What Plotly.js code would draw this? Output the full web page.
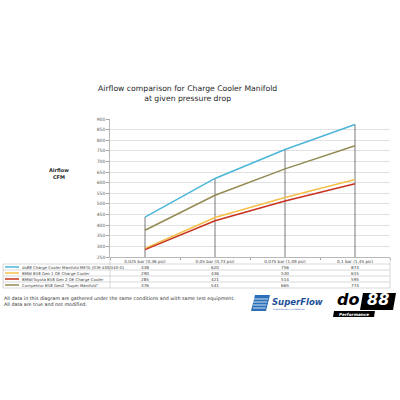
<!DOCTYPE html>
<html><head><meta charset="utf-8">
<script src="https://cdn.plot.ly/plotly-3.0.1.min.js"></script>
<style>html,body{margin:0;padding:0;background:#fff}#c{width:400px;height:400px}</style>
</head><body><div id="c"></div>
<script>
var categories = ["0,025 bar (0,36 psi)", "0,05 bar (0,73 psi)", "0,075 bar (1,09 psi)", "0,1 bar (1,45 psi)"];
var seriesNames = ["do88 Charge Cooler Manifold META (ICM-430/440-G)", "BMW B58 Gen 1 OE Charge Cooler", "BMW/Toyota B58 Gen 2 OE Charge Cooler", "Competitor B58 Gen2 \"Super Manifold\""];
var do88Values = [438, 620, 756, 874];
var gen1Values = [290, 436, 530, 615];
var gen2Values = [285, 421, 514, 595];
var competitorValues = [376, 541, 665, 774];
var seriesColors = ["#4bb6d8", "#f5c04a", "#c8321e", "#948a54"];
var yTicks = [250,300,350,400,450,500,550,600,650,700,750,800,850,900];

var allSeries = [do88Values, gen1Values, gen2Values, competitorValues];

var L = 110, R = 390, T = 119, B = 257;
function px(X){ return (X - L) / (R - L); }
function py(Y){ return (B - Y) / (B - T); }

var traces = [];
var dx = [], dy = [];
categories.forEach(function(c, i){
  var m = Math.max.apply(null, allSeries.map(function(s){return s[i];}));
  dx.push(c, c, null); dy.push(yTicks[0], m, null);
});
traces.push({x: dx, y: dy, mode: 'lines', line: {color: '#595959', width: 0.8}, hoverinfo: 'skip', showlegend: false});
[3, 0, 1, 2].forEach(function(k){
  traces.push({x: categories, y: allSeries[k], mode: 'lines', name: seriesNames[k],
    line: {color: seriesColors[k], width: 1.5}, showlegend: false});
});

var shapes = [], annotations = [];
var lineCol = '#c8c8c8';
[264, 270, 276, 282, 288].forEach(function(Y){
  shapes.push({type: 'line', xref: 'paper', yref: 'paper', x0: px(3), x1: px(390), y0: py(Y), y1: py(Y), line: {color: lineCol, width: 0.7}});
});
[[3, 264], [110, 257], [390, 257]].forEach(function(v){
  shapes.push({type: 'line', xref: 'paper', yref: 'paper', x0: px(v[0]), x1: px(v[0]), y0: py(v[1]), y1: py(288), line: {color: lineCol, width: 0.7}});
});
var rowY = [267, 273, 279, 285];
seriesNames.forEach(function(n, k){
  shapes.push({type: 'line', xref: 'paper', yref: 'paper', x0: px(5), x1: px(19), y0: py(rowY[k]), y1: py(rowY[k]), line: {color: seriesColors[k], width: 1.5}});
  annotations.push({xref: 'paper', yref: 'paper', x: px(19.5), y: py(rowY[k]), text: n, showarrow: false, xanchor: 'left', yanchor: 'middle', font: {size: 3.9, color: '#404040', family: 'DejaVu Sans'}});
  categories.forEach(function(c, i){
    annotations.push({xref: 'x', yref: 'paper', x: c, y: py(rowY[k]), text: String(allSeries[k][i]), showarrow: false, xanchor: 'center', yanchor: 'middle', font: {size: 4.2, color: '#404040', family: 'DejaVu Sans'}});
  });
});

annotations.push({xref: 'paper', yref: 'paper', x: px(187), y: py(93), text: 'Airflow comparison for Charge Cooler Manifold<br>at given pressure drop', showarrow: false, xanchor: 'center', yanchor: 'middle', font: {size: 7.7, color: '#262626', family: 'DejaVu Sans'}});
annotations.push({xref: 'paper', yref: 'paper', x: px(59), y: py(173), text: '<b>Airflow</b><br><b>CFM</b>', showarrow: false, xanchor: 'center', yanchor: 'middle', font: {size: 5, color: '#262626', family: 'DejaVu Sans'}});
annotations.push({xref: 'paper', yref: 'paper', x: px(2), y: py(301), text: 'All data in this diagram are gathered under the same conditions and with same test equipment.<br>All data are true and not modified.', showarrow: false, xanchor: 'left', yanchor: 'middle', align: 'left', font: {size: 4.8, color: '#333333', family: 'DejaVu Sans'}});

// SuperFlow logo
shapes.push({type: 'path', xref: 'paper', yref: 'paper', path: 'M ' + px(255) + ' ' + py(295) + ' L ' + px(270) + ' ' + py(295) + ' L ' + px(266) + ' ' + py(311) + ' L ' + px(251) + ' ' + py(311) + ' Z', fillcolor: '#2a6fb8', line: {width: 0}});
[299, 302, 305, 308].forEach(function(Y, j){
  shapes.push({type: 'line', xref: 'paper', yref: 'paper', x0: px(253), x1: px(268 - j*0.8), y0: py(Y), y1: py(Y), line: {color: '#ffffff', width: 0.8}});
});
annotations.push({xref: 'paper', yref: 'paper', x: px(270), y: py(302), text: '<b><i>SuperFlow</i></b>', showarrow: false, xanchor: 'left', yanchor: 'middle', font: {size: 8.5, color: '#1d4f9a', family: 'DejaVu Sans'}});
annotations.push({xref: 'paper', yref: 'paper', x: px(271), y: py(309), text: 'DYNAMOMETERS &amp; FLOWBENCHES', showarrow: false, xanchor: 'left', yanchor: 'middle', font: {size: 1.8, color: '#1d4f9a', family: 'DejaVu Sans'}});

// do88 logo
shapes.push({type: 'path', xref: 'paper', yref: 'paper', path: 'M ' + px(363) + ' ' + py(293) + ' L ' + px(396) + ' ' + py(293) + ' L ' + px(393) + ' ' + py(310) + ' L ' + px(360) + ' ' + py(310) + ' Z', fillcolor: '#000000', line: {width: 0}});
shapes.push({type: 'path', xref: 'paper', yref: 'paper', path: 'M ' + px(334) + ' ' + py(311) + ' L ' + px(375) + ' ' + py(311) + ' L ' + px(374) + ' ' + py(317) + ' L ' + px(333) + ' ' + py(317) + ' Z', fillcolor: '#000000', line: {width: 0}});
annotations.push({xref: 'paper', yref: 'paper', x: px(361), y: py(311), text: '<b><i>do</i></b>', showarrow: false, xanchor: 'right', yanchor: 'bottom', font: {size: 16, color: '#000000', family: 'DejaVu Sans'}});
annotations.push({xref: 'paper', yref: 'paper', x: px(378), y: py(311), text: '<b><i>88</i></b>', showarrow: false, xanchor: 'center', yanchor: 'bottom', font: {size: 16, color: '#ffffff', family: 'DejaVu Sans'}});
annotations.push({xref: 'paper', yref: 'paper', x: px(354), y: py(314), text: '<b><i>Performance</i></b>', showarrow: false, xanchor: 'center', yanchor: 'middle', borderpad: 0, font: {size: 4.2, color: '#ffffff', family: 'DejaVu Sans'}});

var layout = {
  width: 400, height: 400,
  margin: {l: L, r: 400 - R, t: T, b: 400 - B, pad: 0},
  paper_bgcolor: '#ffffff', plot_bgcolor: '#ffffff',
  showlegend: false,
  xaxis: {type: 'category', categoryorder: 'array', categoryarray: categories, range: [-0.5, 3.5],
    showgrid: false, zeroline: false, showline: true, linecolor: '#a6a6a6', linewidth: 0.8,
    ticks: 'outside', tickson: 'boundaries', ticklen: 2, tickcolor: '#a6a6a6',
    tickfont: {size: 4.2, color: '#404040', family: 'DejaVu Sans'}, fixedrange: true},
  yaxis: {range: [250, 900], tickvals: yTicks, ticktext: yTicks.map(String),
    showgrid: true, gridcolor: '#d9d9d9', gridwidth: 0.8, zeroline: false,
    showline: true, linecolor: '#a6a6a6', linewidth: 0.8, ticks: 'outside', ticklen: 3, tickcolor: '#a6a6a6',
    tickfont: {size: 4.5, color: '#595959', family: 'DejaVu Sans'}, fixedrange: true},
  shapes: shapes, annotations: annotations
};
Plotly.newPlot('c', traces, layout, {displayModeBar: false, staticPlot: true});
</script></body></html>
